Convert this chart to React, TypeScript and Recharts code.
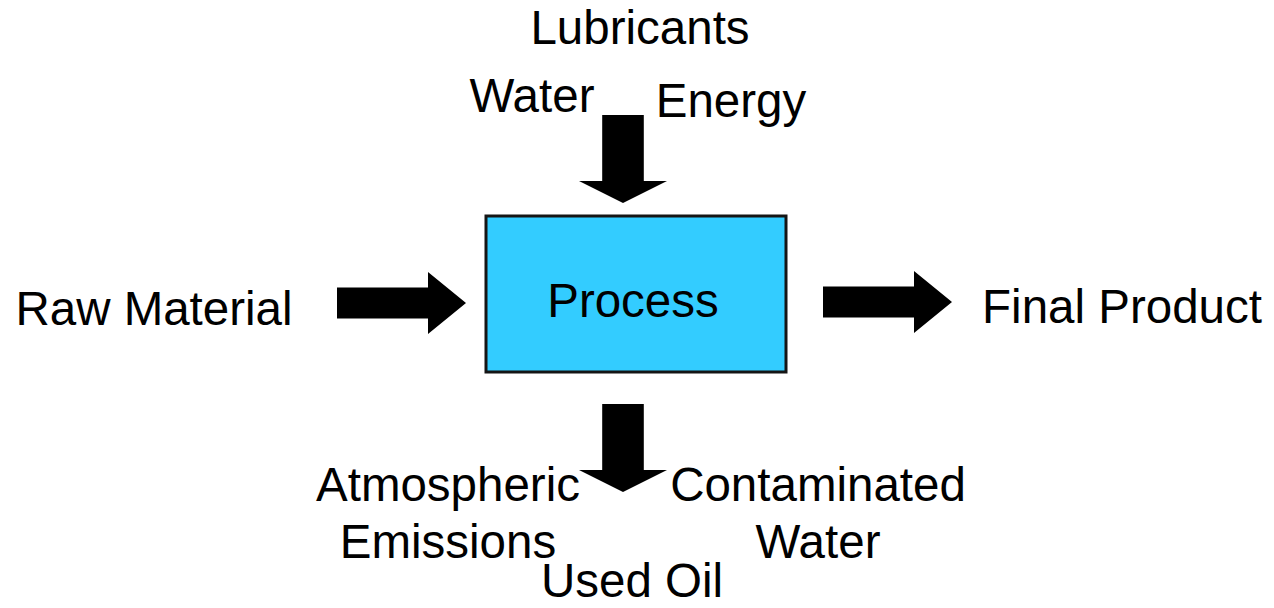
import { ScatterChart, Scatter, XAxis, YAxis, ReferenceArea } from 'recharts';

// flow diagram drawn on a pixel-sized number grid (x: 0..1274, y: 0..608 top-down)
const labelText = [
  'Lubricants', 'Water', 'Energy',
  'Raw Material', 'Process', 'Final Product',
  'Atmospheric', 'Emissions', 'Contaminated', 'Water', 'Used Oil',
];
const labelX = [640, 532, 731, 154, 633, 1122, 448, 448, 818, 818, 632];
const labelY = [44, 112, 117, 325, 317, 323, 501, 558, 501, 558, 597];

// arrow tips and directions
const arrowTipX = [623, 466, 952, 623];
const arrowTipY = [203, 303, 302, 492];
const arrowDir = ['down', 'right', 'right', 'down'];

const labels = labelText.map((text, i) => ({ x: labelX[i], y: labelY[i], text }));
const arrows = arrowTipX.map((x, i) => ({ x, y: arrowTipY[i], dir: arrowDir[i] }));

const FONT = '"Liberation Sans", Arial, Helvetica, sans-serif';

const arrowSize: Record<string, { len: number; head: number; shaft: number; wing: number }> = {
  right: { len: 129, head: 38, shaft: 15.5, wing: 31 },
  down: { len: 88, head: 22, shaft: 20.8, wing: 44 },
};

const ArrowShape = (props: any) => {
  const { cx, cy, payload } = props;
  const s = arrowSize[payload.dir];
  let pts: number[][];
  if (payload.dir === 'right') {
    pts = [
      [cx - s.len, cy - s.shaft], [cx - s.head, cy - s.shaft], [cx - s.head, cy - s.wing],
      [cx, cy], [cx - s.head, cy + s.wing], [cx - s.head, cy + s.shaft], [cx - s.len, cy + s.shaft],
    ];
  } else {
    pts = [
      [cx - s.shaft, cy - s.len], [cx + s.shaft, cy - s.len], [cx + s.shaft, cy - s.head],
      [cx + s.wing, cy - s.head], [cx, cy], [cx - s.wing, cy - s.head], [cx - s.shaft, cy - s.head],
    ];
  }
  return <polygon points={pts.map((p) => p.join(',')).join(' ')} fill="#000" />;
};

const LabelShape = (props: any) => {
  const { cx, cy, payload } = props;
  return (
    <text x={cx} y={cy} textAnchor="middle" fontFamily={FONT} fontSize={47.5} fill="#000">
      {payload.text}
    </text>
  );
};

export default function App() {
  return (
    <div style={{ position: 'absolute', left: 0, top: 0, width: 1274, height: 608, background: '#fff' }}>
      <ScatterChart width={1274} height={608} margin={{ top: 0, right: 0, bottom: 0, left: 0 }}>
        <XAxis type="number" dataKey="x" domain={[0, 1274]} hide />
        <YAxis type="number" dataKey="y" domain={[0, 608]} reversed hide />
        <ReferenceArea
          x1={486}
          x2={786}
          y1={216}
          y2={372}
          fill="#33CCFF"
          fillOpacity={1}
          stroke="#151515"
          strokeWidth={3}
        />
        <Scatter data={arrows} shape={ArrowShape} isAnimationActive={false} />
        <Scatter data={labels} shape={LabelShape} isAnimationActive={false} />
      </ScatterChart>
    </div>
  );
}
